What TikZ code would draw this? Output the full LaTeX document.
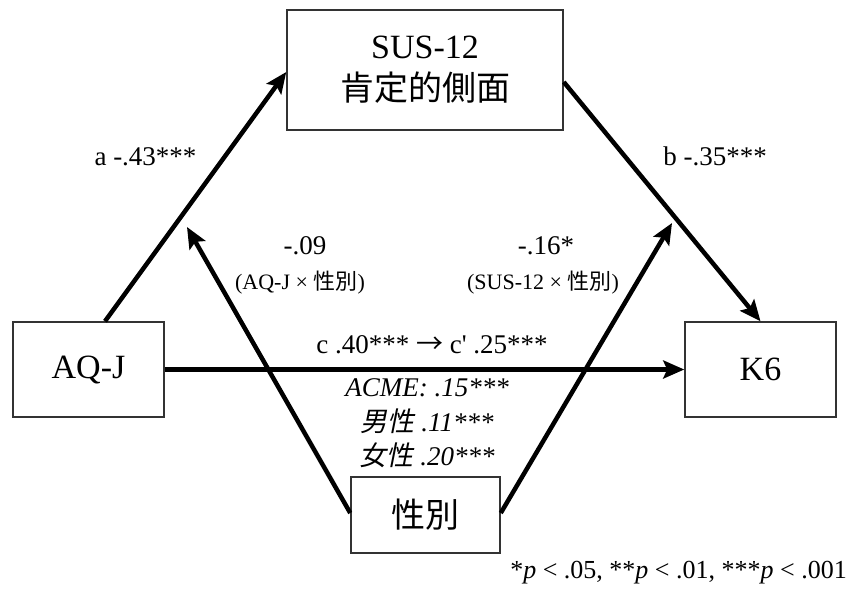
\documentclass[tikz,border=0pt]{standalone}
\usepackage{fontspec}
\setmainfont{Liberation Serif}
\newfontfamily\plainserif{Liberation Serif}[Ligatures=TeXOff]
\newfontfamily\jp{Noto Sans CJK JP}
\newfontfamily\jpit[FakeSlant=0.2]{Noto Sans CJK JP}
\usetikzlibrary{arrows.meta,calc}
\begin{document}
\begin{tikzpicture}[x=1pt,y=-1pt,
  box/.style={draw=black!80, line width=1.5pt, inner sep=0pt, align=center,
    font=\fontsize{34}{42}\selectfont},
  conn/.style={line width=4.5pt, -{Stealth[length=21pt,width=18pt,inset=4pt]}},
  lbl/.style={anchor=base, inner sep=0pt, font=\fontsize{27}{32}\selectfont},
  small/.style={anchor=base, inner sep=0pt, font=\fontsize{22}{26}\selectfont},
  note/.style={anchor=base east, inner sep=0pt, font=\fontsize{26}{30}\selectfont}]
\useasboundingbox (0,0) rectangle (850,590);
% boxes
\node[box, minimum width=276pt, minimum height=120pt] (sus) at (425,70) {SUS-12\\{\jp 肯定的側面}};
\node[box, minimum width=151pt, minimum height=95pt] (aqj) at (88.5,369.5) {AQ-J};
\node[box, minimum width=151pt, minimum height=95pt] (k6) at (760.5,369.5) {K6};
\node[box, minimum width=149pt, minimum height=76pt] (gen) at (425.5,515) {\jp 性別};
% free ends of moderation arrows
\coordinate (m1) at (187,227);
\coordinate (m2) at (672,223);
% connectors
\draw[conn] ($(aqj.north)+(16.5,0)$) -- ($(sus.west)+(0,2)$);
\draw[conn] ($(sus.east)+(0,12)$) -- (k6.north);
\draw[conn] (aqj.east) -- (k6.west);
\draw[conn] ($(gen.west)+(0,-2)$) -- (m1);
\draw[conn] ($(gen.east)+(0,-2)$) -- (m2);
% labels
\node[lbl] (la) at (145.5,165) {a -.43***};
\node[lbl] (lb) at (715,165) {b -.35***};
\node[lbl] (l09) at (305,254) {-.09};
\node[small] (l09b) at (300,289) {(AQ-J × {\jp 性別})};
\node[lbl] (l16) at (546,254) {-.16*};
\node[small] (l16b) at (543,289) {(SUS-12 × {\jp 性別})};
\node[lbl] (lc) at (432,353) {c .40*** {\jp →} {\plainserif c'} .25***};
\node[lbl] (lacme) at (427,396) {\itshape ACME: .15***};
\node[lbl] (lm) at (427,431) {{\jpit 男性} \itshape .11***};
\node[lbl] (lf) at (427,465) {{\jpit 女性} \itshape .20***};
\node[note] (fn) at (847,578) {*\textit{p} < .05, **\textit{p} < .01, ***\textit{p} < .001};
\end{tikzpicture}
\end{document}
